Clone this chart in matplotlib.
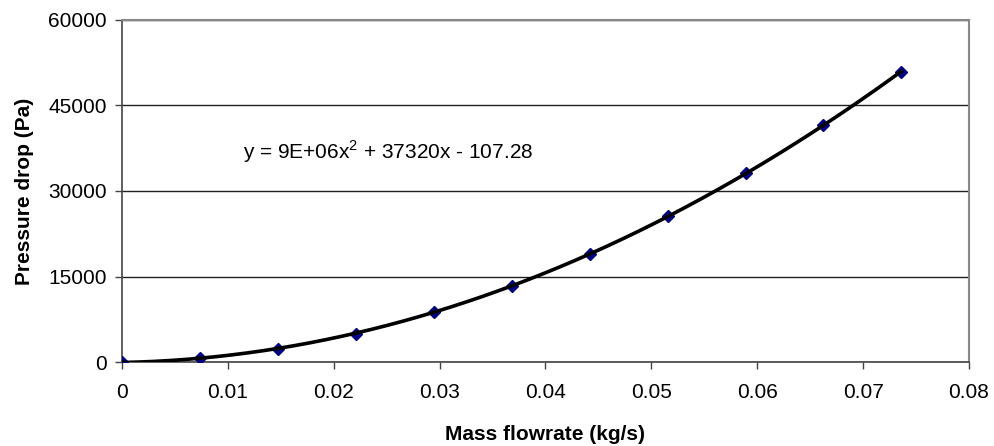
import numpy as np
import matplotlib
matplotlib.use("Agg")
import matplotlib.pyplot as plt

flowrate = [0.0, 0.00736, 0.01472, 0.02208, 0.02945, 0.0368, 0.04417, 0.05153, 0.0589, 0.06625, 0.0736]
pressure_drop = [0, 650, 2330, 4960, 8750, 13330, 18900, 25650, 33100, 41500, 50900]

x_ticks = [0, 0.01, 0.02, 0.03, 0.04, 0.05, 0.06, 0.07, 0.08]
x_tick_labels = ["0", "0.01", "0.02", "0.03", "0.04", "0.05", "0.06", "0.07", "0.08"]
y_ticks = [0, 15000, 30000, 45000, 60000]
equation = "y = 9E+06x$^{2}$ + 37320x - 107.28"

plt.rcParams['font.family'] = ['Liberation Sans', 'DejaVu Sans']
plt.rcParams['mathtext.fontset'] = 'custom'
plt.rcParams['mathtext.rm'] = 'Liberation Sans'

fig = plt.figure(figsize=(9.94, 4.46), dpi=100)
ax = fig.add_axes([0.1227, 0.1883, 0.8521, 0.7669])

# quadratic trendline (least squares, like the spreadsheet did)
coef = np.polyfit(flowrate, pressure_drop, 2)
xs = np.linspace(0, flowrate[-1], 200)
ax.plot(xs, np.polyval(coef, xs), color='black', lw=2.6, zorder=4)
ax.plot(flowrate, pressure_drop, linestyle='none', marker='D', markersize=6,
        color='#000080', zorder=3)

ax.set_xlim(0, 0.08)
ax.set_ylim(0, 60000)
ax.set_xticks(x_ticks)
ax.set_xticklabels(x_tick_labels)
ax.set_yticks(y_ticks)
ax.yaxis.grid(True, color='#202020', lw=1.0)
ax.set_axisbelow(True)

for side in ['top', 'right']:
    ax.spines[side].set_color('#888888')
    ax.spines[side].set_linewidth(1.5)
for side in ['left', 'bottom']:
    ax.spines[side].set_color('#444444')
    ax.spines[side].set_linewidth(1.2)

ax.tick_params(axis='both', direction='out', length=5, width=1, color='#444444',
               labelsize=15, pad=6)
ax.tick_params(axis='x', pad=10)

ax.set_xlabel('Mass flowrate (kg/s)', fontsize=15, fontweight='bold', labelpad=17)
ax.set_ylabel('Pressure drop (Pa)', fontsize=15, fontweight='bold', labelpad=10)

ax.text(0.01143, 36900, equation, fontsize=15, va='center', ha='left')

fig.savefig('out.png', dpi=100)
